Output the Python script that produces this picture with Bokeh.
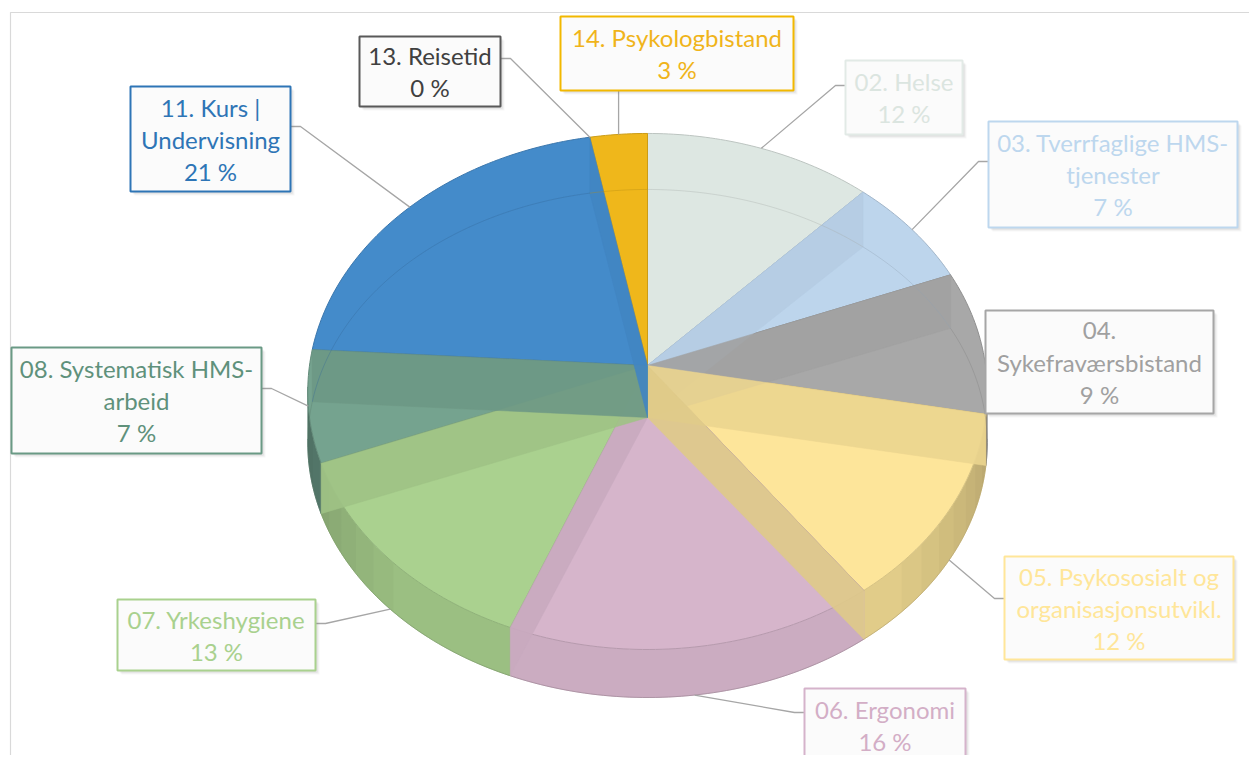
import math
from bokeh.plotting import figure
from bokeh.models import ColumnDataSource, Range1d
from bokeh.core.properties import value
from bokeh.embed import file_html
from bokeh.resources import INLINE

# ---------------- data ----------------
categories = ["02. Helse", "03. Tverrfaglige HMS-tjenester", "04. Sykefraværsbistand",
              "05. Psykososialt og organisasjonsutvikl.", "06. Ergonomi", "07. Yrkeshygiene",
              "08. Systematisk HMS-arbeid", "11. Kurs | Undervisning", "13. Reisetid",
              "14. Psykologbistand"]
values = [12, 7, 9, 12, 16, 13, 7, 21, 0, 3]
slice_colors = ["#dde7e2", "#bdd5ec", "#a8a8a8", "#fde59a", "#d6b5cb",
                "#aad18f", "#75a38f", "#448bca", "#595959", "#efb71b"]
label_lines = [["02. Helse"], ["03. Tverrfaglige HMS-", "tjenester"], ["04.", "Sykefraværsbistand"],
               ["05. Psykososialt og", "organisasjonsutvikl."], ["06. Ergonomi"], ["07. Yrkeshygiene"],
               ["08. Systematisk HMS-", "arbeid"], ["11. Kurs |", "Undervisning"], ["13. Reisetid"],
               ["14. Psykologbistand"]]
text_colors = ["#dbe5e0", "#bdd7ee", "#a0a0a0", "#ffe699", "#d3aec6",
               "#a9d18e", "#5f917b", "#2e75b6", "#404040", "#f0b41a"]
border_colors = ["#e2eae6", "#bdd7ee", "#a6a6a6", "#ffe699", "#d5b3cb",
                 "#a9d18e", "#6a9a85", "#2e75b6", "#595959", "#f2b800"]

# ---------------- layout (pixel space) ----------------
# box: x0, y0, x1, y1, leader side, elbow y
boxes = [(845, 60, 962, 134, "left", 85),
         (988, 121, 1237, 227, "left", 161),
         (985, 310, 1213, 413, "none", 0),
         (1004, 556, 1233, 659, "left", 598),
         (804, 688, 965, 762, "left", 712),
         (117, 599, 315, 670, "right", 623),
         (11, 347, 261, 453, "right", 388),
         (130, 86, 290, 191, "right", 126),
         (359, 36, 500, 106, "right", 58),
         (560, 16, 793, 90, "bottom", 0)]

CX, CY = 647.0, 365.0
RX, RY = 338.0, 255.4
K = 0.1007
DEPTH, DEPTH_TILT = 52.0, 4.0
FONT = "Lato"
FSIZE = "24px"
LINE_GAP = 32
W, H = 1249, 755


def proj(theta_deg, z=0.0):
    t = math.radians(theta_deg)
    u, v = math.sin(t), math.cos(t)
    d = 1 + K * v
    return CX + RX * u / d, CY - RY * v / d + z * (DEPTH + DEPTH_TILT * v)


def shade(hexcol, f):
    h = hexcol.lstrip("#")
    r, g, b = (int(h[i:i + 2], 16) for i in (0, 2, 4))
    r, g, b = (max(0, min(255, int(round(c * f)))) for c in (r, g, b))
    return "#%02x%02x%02x" % (r, g, b)


def wall_poly(ta, tb, step=1.0):
    n = max(1, int(math.ceil((tb - ta) / step)))
    top = [proj(ta + (tb - ta) * k / n) for k in range(n + 1)]
    bot = [proj(ta + (tb - ta) * k / n, 1) for k in range(n, -1, -1)]
    pts = top + bot
    return [q[0] for q in pts], [q[1] for q in pts]


total = float(sum(values))
spans = []
cum = 0.0
for val in values:
    a0 = 360.0 * cum / total
    cum += val
    a1 = 360.0 * cum / total
    spans.append((a0, a1))

p = figure(width=W, height=H, x_range=Range1d(0, W), y_range=Range1d(H, 0),
           output_backend="svg", toolbar_location=None, min_border=0)
p.axis.visible = False
p.xgrid.visible = False
p.ygrid.visible = False
p.outline_line_color = None
p.background_fill_color = "white"
p.border_fill_color = "white"

# chart frame
p.line(x=[10, 10, 1260], y=[770, 12, 12], line_color="#d9d9d9", line_width=1.2)

# ---------------- outer walls (front half) ----------------
SIL = math.degrees(math.acos(-K))          # right silhouette angle
wx, wy, wc = [], [], []
for i, (a0, a1) in enumerate(spans):
    lo, hi = max(a0, SIL - 1), min(a1, 360 - SIL + 1)
    if hi <= lo:
        continue
    mid = (lo + hi) / 2
    f = 0.82 + 0.13 * max(0.0, -math.cos(math.radians(mid)))
    xs, ys = wall_poly(lo, hi)
    wx.append(xs)
    wy.append(ys)
    wc.append(shade(slice_colors[i], f))
p.patches(xs=wx, ys=wy, fill_color=wc, line_color=wc, line_width=0.8)

# darkening toward the silhouettes (layered overlays give a soft gradient)
ox, oy = [], []
for k in range(1, 9):
    xs, ys = wall_poly(SIL - 1, SIL + 5 * k)
    ox.append(xs)
    oy.append(ys)
    xs, ys = wall_poly(360 - SIL - 5 * k, 360 - SIL + 1)
    ox.append(xs)
    oy.append(ys)
p.patches(xs=ox, ys=oy, fill_color="#000000", fill_alpha=0.025, line_color=None)

# bottom rim lines (front)
for i, (a0, a1) in enumerate(spans):
    lo, hi = max(a0, SIL - 1), min(a1, 360 - SIL + 1)
    if hi <= lo:
        continue
    n = int(math.ceil(hi - lo)) + 1
    pts = [proj(lo + (hi - lo) * k / (n - 1), 1) for k in range(n)]
    p.line([q[0] for q in pts], [q[1] for q in pts], line_color=shade(slice_colors[i], 0.7),
           line_alpha=0.6, line_width=1)

# ---------------- top faces ----------------
tx, ty, tfc, tlc = [], [], [], []
for i, (a0, a1) in enumerate(spans):
    if a1 - a0 <= 0:
        continue
    n = max(2, int(math.ceil(a1 - a0)) + 1)
    pts = [(CX, CY)] + [proj(a0 + (a1 - a0) * k / (n - 1)) for k in range(n)]
    tx.append([q[0] for q in pts])
    ty.append([q[1] for q in pts])
    tfc.append(slice_colors[i])
    tlc.append(shade(slice_colors[i], 0.85))
p.patches(xs=tx, ys=ty, fill_color=tfc, line_color=tlc, line_width=1)

# see-through radial walls
nonzero = [i for i, (a0, a1) in enumerate(spans) if a1 - a0 > 0]
bx, by, bc = [], [], []
for j, i in enumerate(nonzero[:-1]):
    th = spans[i][1]
    nxt = nonzero[j + 1]
    c = math.cos(math.radians(th))
    if c < -0.5:
        col = shade(slice_colors[i], 0.88 if th < 180 else 0.94)
    else:
        cover = nxt if th < 180 else i
        col = shade(slice_colors[cover], 0.96 if c > 0.2 else 0.93)
    xr, yr = proj(th)
    xb, yb = proj(th, 1)
    bx.append([CX, xr, xb, CX])
    by.append([CY, yr, yb, CY + DEPTH])
    bc.append(col)
p.patches(xs=bx, ys=by, fill_color=bc, fill_alpha=0.9, line_color=bc, line_alpha=0.6, line_width=0.8)

# faint see-through bottom rim at back
for i, (a0, a1) in enumerate(spans):
    if a1 - a0 <= 0:
        continue
    n = max(2, int(math.ceil(a1 - a0)) + 1)
    angs = [a0 + (a1 - a0) * k / (n - 1) for k in range(n)]
    pts = [proj(a, 1) for a in angs if math.cos(math.radians(a)) > -0.1]
    if len(pts) > 1:
        p.line([q[0] for q in pts], [q[1] for q in pts], line_color=shade(slice_colors[i], 0.75),
               line_alpha=0.35, line_width=1)

# ---------------- leader lines ----------------
for i, (a0, a1) in enumerate(spans):
    x0, y0, x1, y1, side, ey = boxes[i]
    if side == "none":
        continue
    mid = (a0 + a1) / 2
    v = math.cos(math.radians(mid))
    ax, ay = proj(mid, 1 if v < -0.5 else 0)
    if side == "left":
        xs, ys = [ax, x0 - 10, x0], [ay, ey, ey]
    elif side == "right":
        xs, ys = [ax, x1 + 10, x1], [ay, ey, ey]
    else:
        xs, ys = [ax, ax], [ay, y1]
    p.line(xs, ys, line_color="#a6a6a6", line_width=1.3)

# ---------------- label boxes ----------------
for off, al in ((4, 0.06), (3, 0.08), (2, 0.1)):
    p.quad(left=[b[0] + off for b in boxes], right=[b[2] + off for b in boxes],
           top=[b[1] + off for b in boxes], bottom=[b[3] + off for b in boxes],
           fill_color="#7f7f7f", fill_alpha=al, line_color=None)
p.quad(left=[b[0] for b in boxes], right=[b[2] for b in boxes],
       top=[b[1] for b in boxes], bottom=[b[3] for b in boxes],
       fill_color="#fbfbfb", line_color=border_colors, line_width=2)

lx, ly, lt, lc = [], [], [], []
for i, lines in enumerate(label_lines):
    x0, y0, x1, y1, side, ey = boxes[i]
    allines = lines + ["%d %%" % values[i]]
    n = len(allines)
    cy = (y0 + y1) / 2
    for k, t in enumerate(allines):
        lx.append((x0 + x1) / 2)
        ly.append(cy + (k - (n - 1) / 2) * LINE_GAP)
        lt.append(t)
        lc.append(text_colors[i])
src = ColumnDataSource(dict(x=lx, y=ly, text=lt, color=lc))
p.text(x="x", y="y", text="text", text_color="color", source=src, text_font=value(FONT),
       text_font_size=FSIZE, text_align="center", text_baseline="middle")

open("out.html", "w").write(file_html(p, INLINE))
